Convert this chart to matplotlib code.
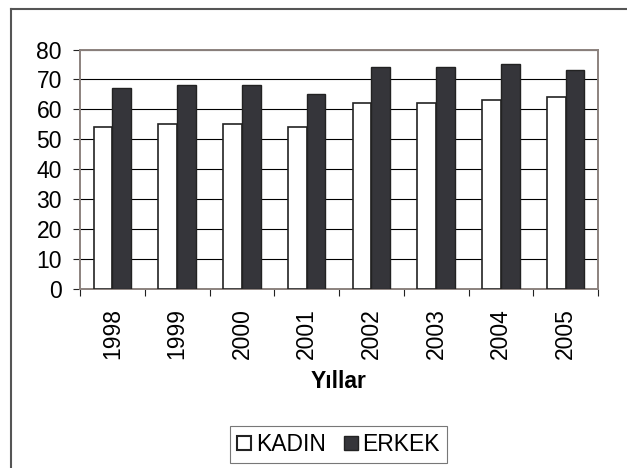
import numpy as np
import matplotlib.pyplot as plt
from matplotlib.lines import Line2D
from matplotlib.patches import Patch

years = ['1998', '1999', '2000', '2001', '2002', '2003', '2004', '2005']
kadin = [54, 55, 55, 54, 62, 62, 63, 64]
erkek = [67, 68, 68, 65, 74, 74, 75, 73]

plt.rcParams['font.family'] = ['Liberation Sans', 'DejaVu Sans']
fig = plt.figure(figsize=(6.27, 4.68), dpi=100)
fs = 16.5

# chart area border (only top and left visible in the reference)
fig.add_artist(Line2D([11/627, 11/627], [0, 1 - 8.5/468], transform=fig.transFigure,
                      color='#555555', lw=1.5))
fig.add_artist(Line2D([11/627, 1], [1 - 8.5/468, 1 - 8.5/468], transform=fig.transFigure,
                      color='#555555', lw=1.5))

ax = fig.add_axes([80/627, 1 - 288.5/468, 518/627, 239/468])
x = np.arange(len(years))
w = 0.29
ax.bar(x - w/2, kadin, w, color='white', edgecolor='#222222', linewidth=1.2, zorder=3)
ax.bar(x + w/2, erkek, w, color='#35353a', edgecolor='#222222', linewidth=1.0, zorder=3)

ax.set_xlim(-0.5, len(years) - 0.5)
ax.set_ylim(0, 80)
ax.set_yticks(np.arange(0, 81, 10))
ax.yaxis.grid(True, color='black', linewidth=0.8, zorder=0)
ax.set_axisbelow(True)

ax.set_xticks(x)
ax.set_xticklabels(years, rotation=90, fontsize=fs)
ax.set_xticks(np.arange(-0.5, len(years), 1.0), minor=True)
ax.tick_params(axis='x', which='major', length=0, pad=14)
ax.tick_params(axis='x', which='minor', length=5, width=0.8, color='#222222', direction='out')
ax.tick_params(axis='y', length=5, width=0.8, color='#222222', labelsize=fs, pad=8)

for s in ax.spines.values():
    s.set_color('#8c827e')
    s.set_linewidth(1.4)

ax.set_xlabel('Yıllar', fontsize=fs, fontweight='bold', labelpad=8)

handles = [Patch(facecolor='white', edgecolor='#222222', linewidth=1.5, label='KADIN'),
           Patch(facecolor='#35353a', edgecolor='#222222', label='ERKEK')]
leg = fig.legend(handles=handles, loc='center', bbox_to_anchor=(338.5/627, 1 - 444.5/468),
                 ncol=2, fontsize=fs, frameon=True, fancybox=False, handlelength=0.6,
                 handleheight=0.6, handletextpad=0.2, columnspacing=0.8,
                 borderpad=0.3, borderaxespad=0)
leg.get_frame().set_edgecolor('#555555')
leg.get_frame().set_linewidth(0.8)

fig.savefig('out.png', dpi=100)
